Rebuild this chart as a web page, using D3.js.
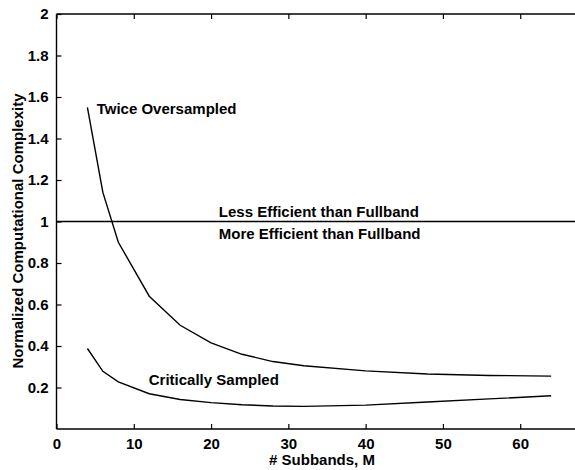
<!DOCTYPE html>
<html><head><meta charset="utf-8">
<script src="https://cdn.jsdelivr.net/npm/d3@7"></script>
<style>
html,body{margin:0;padding:0;background:#fff;overflow:hidden}
text{font-family:"Liberation Sans",Arial,sans-serif;font-weight:bold;fill:#000}
</style></head>
<body><svg id="c" width="575" height="470"></svg>
<script>
// data
const twiceM   = [4, 6, 8, 12, 16, 20, 24, 28, 32, 40, 48, 56, 64];
const twiceVal = [1.55, 1.14, 0.90, 0.64, 0.50, 0.415, 0.36, 0.325, 0.305, 0.28, 0.265, 0.258, 0.255];
const critM    = [4, 6, 8, 12, 16, 20, 24, 28, 32, 40, 48, 56, 64];
const critVal  = [0.388, 0.278, 0.227, 0.17, 0.142, 0.127, 0.117, 0.111, 0.109, 0.115, 0.13, 0.145, 0.16];
const fullbandVal = 1;
const xTicks = [0, 10, 20, 30, 40, 50, 60];
const yTicks = [0.2, 0.4, 0.6, 0.8, 1, 1.2, 1.4, 1.6, 1.8, 2];

const svg = d3.select("#c");
const L = 56.5, T = 14, B = 429, R = 597.5;
const x = d3.scaleLinear().domain([0, 70]).range([L, R]);
const y = d3.scaleLinear().domain([0, 2]).range([B, T]);

const fs = 15;
// axes
const xAxis = d3.axisBottom(x).tickValues(xTicks).tickSize(-5).tickPadding(9)
  .tickFormat(d3.format("d"));
const gx = svg.append("g").attr("transform", `translate(0,${B})`).call(xAxis);
const yAxis = d3.axisLeft(y).tickValues(yTicks).tickSize(-5).tickPadding(8)
  .tickFormat(d => d3.format("")(d));
const gy = svg.append("g").attr("transform", `translate(${L},0)`).call(yAxis);
const gt = svg.append("g").attr("transform", `translate(0,${T})`)
  .call(d3.axisTop(x).tickValues(xTicks).tickSize(-5).tickFormat(""));
[gx, gy, gt].forEach(g => {
  g.select(".domain").attr("stroke", "#000").attr("stroke-width", 1.4);
  g.selectAll(".tick line").attr("stroke", "#000").attr("stroke-width", 1.2);
  g.selectAll("text").attr("font-size", fs).attr("font-family", "Liberation Sans, Arial, sans-serif")
   .attr("font-weight", "bold").attr("fill", "#000");
});
gt.select(".domain").attr("d", `M${L},0H${R}`);
gx.select(".domain").attr("d", `M${L},0H${R}`);
gy.select(".domain").attr("d", `M0,${B}V${T}`);

// fullband line
svg.append("line").attr("x1", x(0)).attr("x2", x(70))
  .attr("y1", y(fullbandVal)).attr("y2", y(fullbandVal))
  .attr("stroke", "#000").attr("stroke-width", 1.3);

const line = d3.line().x(d => x(d[0])).y(d => y(d[1]));
svg.append("path").datum(twiceM.map((m, i) => [m, twiceVal[i]]))
  .attr("d", line).attr("fill", "none").attr("stroke", "#000").attr("stroke-width", 1.4);
svg.append("path").datum(critM.map((m, i) => [m, critVal[i]]))
  .attr("d", line).attr("fill", "none").attr("stroke", "#000").attr("stroke-width", 1.4);

// annotations
const ann = [
  ["Twice Oversampled", 5.2, 1.518],
  ["Less Efficient than Fullband", 21, 1.023],
  ["More Efficient than Fullband", 21, 0.914],
  ["Critically Sampled", 11.94, 0.212]
];
ann.forEach(a => svg.append("text").attr("x", x(a[1])).attr("y", y(a[2]))
  .attr("font-size", fs).text(a[0]));

// axis titles
svg.append("text").attr("x", 322).attr("y", 465).attr("text-anchor", "middle")
  .attr("font-size", fs).text("# Subbands, M");
svg.append("text").attr("transform", "translate(23,231) rotate(-90)")
  .attr("text-anchor", "middle").attr("font-size", fs)
  .text("Normalized Computational Complexity");
</script></body></html>
